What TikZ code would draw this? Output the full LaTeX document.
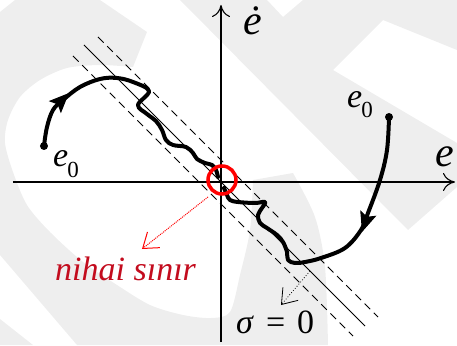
\documentclass[tikz,border=0pt]{standalone}
\usepackage{fontspec}
\setmainfont{Liberation Serif}
\usetikzlibrary{arrows.meta}
\definecolor{wmgray}{RGB}{238,238,238}
\definecolor{limitred}{RGB}{195,12,30}

\begin{document}
\begin{tikzpicture}[x=1pt, y=1pt,
    axisline/.style={line width=1.1pt, -{Computer Modern Rightarrow[length=12pt, width=18pt]}},
    trajline/.style={line width=4pt, line cap=round, line join=round},
    flowtip/.style={line width=1pt, -{Stealth[length=20pt, width=17pt, inset=4pt]}},
    bandline/.style={line width=0.9pt, dash pattern=on 8pt off 5pt},
    ptdot/.style={circle, fill=black, inner sep=0pt, minimum size=8pt},
    axlbl/.style={inner sep=0pt, anchor=base west, font=\fontsize{42}{46}\selectfont\itshape},
    midlbl/.style={inner sep=0pt, anchor=base west, font=\fontsize{34}{38}\selectfont},
    hinttip/.style={-{Straight Barb[length=14pt, width=20pt]}}]
    \useasboundingbox (-221,-163) rectangle (236,182);

    % watermark
    \fill[wmgray] (-41,182) -- (187,-48) -- (236,-5) -- (236,39) -- (112,112) -- (162,162)
        -- (236,132) -- (236,182) -- (82,182) -- (62,165) -- (46,182) -- cycle;
    \fill[wmgray] (-74,150) -- (-121,182) -- (-206,182) -- (-221,170) -- (-221,-73) -- (-144,-163) -- (107,-163)
        -- plot[smooth] coordinates {(107,-163) (104,-85) (94,-35) (72,9)} -- (32,2)
        -- plot[smooth] coordinates {(32,2) (29,-48) (19,-93) (9,-130) (-10,-136) (-38,-133)
            (-71,-123) (-104,-103) (-138,-80) (-171,-50) (-194,-23) (-208,10) (-216,39)
            (-213,62) (-201,85) (-181,102) (-154,114) (-121,117) (-88,115)} -- cycle;
    \fill[wmgray] (-221,-137) -- (-221,-163) -- (-188,-163) -- cycle;

    % axes
    \coordinate (O) at (0,0);
    \coordinate (exL) at (-208,0);
    \coordinate (exR) at (234,0);
    \coordinate (eyB) at (0,-160);
    \coordinate (eyT) at (0,177);
    \draw[axisline] (exL) -- (exR);
    \draw[axisline] (eyB) -- (eyT);
    \node[axlbl] (edot) at (22,147) {ė};
    \node[axlbl] (eax) at (214,15) {e};

    % sliding line and boundary layer
    \draw[line width=0.9pt] (-137,137) -- (144,-144);
    \draw[bandline] (-123,145) -- (157,-135);
    \draw[bandline] (-148,126) -- (132,-154);

    % trajectories
    \coordinate (startL) at (-177,36);
    \coordinate (startR) at (168,65);
    \draw[trajline] plot[smooth, tension=0.6] coordinates {(-177,36) (-174,55) (-168,72)
        (-158,82) (-141,95) (-121,103) (-104,104) (-88,100) (-72,91) (-83,77) (-74,68) (-65,61)
        (-59,52) (-55,42) (-48,37) (-35,35) (-28,29) (-24,23) (-16,19) (-9,17) (-5,12) (-3,5)};
    \draw[trajline] plot[smooth, tension=0.6] coordinates {(168,65) (166,32) (159,2)
        (147,-31) (140,-48) (124,-66) (100,-76) (84,-80) (74,-81) (67,-78) (66,-70) (62,-60)
        (56,-53) (46,-46) (39,-41) (37,-33) (41,-26) (44,-20) (34,-21) (17,-20) (9,-18)
        (6,-13) (3,-6)};
    \coordinate (tipLa) at (-166,75);
    \coordinate (tipLb) at (-152,89);
    \coordinate (tipRa) at (151,-20);
    \coordinate (tipRb) at (141,-50);
    \draw[flowtip] (tipLa) -- (tipLb);
    \draw[flowtip] (tipRa) -- (tipRb);
    \node[ptdot] (dotL) at (startL) {};
    \node[ptdot] (dotR) at (startR) {};
    \node[midlbl] (e0L) at (-168,15) {\textit{e}\kern-1pt\raisebox{-10pt}{\fontsize{23}{23}\selectfont 0}};
    \node[midlbl] (e0R) at (126,74) {\textit{e}\kern-1pt\raisebox{-10pt}{\fontsize{23}{23}\selectfont 0}};

    % final bound
    \draw[red, line width=3.5pt] (1,2) circle (14);
    \coordinate (redA) at (-13,-15);
    \coordinate (redB) at (-79,-67);
    \draw[red, line width=1pt, densely dotted, hinttip] (redA) -- (redB);
    \node[midlbl, text=limitred] (nihai) at (-166,-98) {\textit{nihai sınır}};

    % sigma direction
    \coordinate (sgA) at (89,-89);
    \coordinate (sgB) at (60,-123);
    \draw[line width=0.8pt, dotted, hinttip] (sgA) -- (sgB);
    \node[midlbl] (sigma) at (15,-151) {\textit{σ}\hspace{12pt}=\hspace{12pt}0};
\end{tikzpicture}
\end{document}
